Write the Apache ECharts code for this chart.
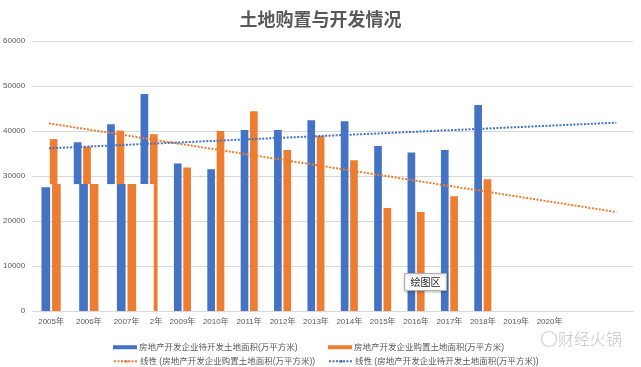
<!DOCTYPE html>
<html>
<head>
<meta charset="utf-8">
<script src="https://cdn.jsdelivr.net/npm/echarts@6/dist/echarts.min.js"></script>
<style>
html,body{margin:0;padding:0;background:#fff;}
#c{width:641px;height:367px;}
</style>
</head>
<body>
<div id="c"></div>
<script>
// ---------- data ----------
const categories = ['2005年','2006年','2007年','2年','2009年','2010年','2011年','2012年','2013年','2014年','2015年','2016年','2017年','2018年','2019年','2020年','',''];
const stockName = '房地产开发企业待开发土地面积(万平方米)';
const buyName = '房地产开发企业购置土地面积(万平方米)';
const stockTrendName = '线性 (房地产开发企业待开发土地面积(万平方米))';
const buyTrendName = '线性 (房地产开发企业购置土地面积(万平方米))';
const stockArea = [27500, 37500, 41500, 48200, 32800, 31500, 40200, 40200, 42400, 42150, 36650, 35200, 35800, 45800];
const buyArea   = [38200, 36500, 40100, 39300, 31900, 40000, 44400, 35800, 38950, 33500, 22900, 22000, 25500, 29300];
// trend line end points [categoryIndex, value]
const stockTrend = [[0, 36150], [17, 41850]];
const buyTrend   = [[0, 41700], [17, 22000]];
const yTicks = [0, 60000, 10000]; // min, max, interval
// the first four years are drawn "spliced": lower part (below breakValue) is shifted
const glitchYears = 4;
const breakValue = 28200;

// ---------- style / layout ----------
const BLUE = '#4472C4', ORANGE = '#ED7D31', TXT = '#595959', GRID = '#D9D9D9';
const FONT = '"Liberation Sans","Noto Sans CJK SC",sans-serif';
const gridLeft = 30, gridRight = 8;
const BAR_W = 0.23, BAR_GAP = 0.22;
const STRETCH = 1.13;      // horizontal stretch of the spliced lower region
const CLIP_BANDS = 3.64;   // spliced region ends this many bands from the left edge

const chart = echarts.init(document.getElementById('c'), null, {renderer: 'canvas'});

const stockBars = stockArea.map((v, i) => i < glitchYears ? '-' : v);
const buyBars = buyArea.map((v, i) => i < glitchYears ? '-' : v);
const glitchData = [];
for (let i = 0; i < glitchYears; i++) {
  glitchData.push([i, stockArea[i], 0]);
  glitchData.push([i, buyArea[i], 1]);
}

function renderGlitch(params, api) {
  const idx = api.value(0), val = api.value(1), slot = api.value(2);
  const band = api.size([1, 0])[0];
  const base = api.coord([idx, 0]);
  const cx = base[0], y0 = base[1];
  const bw = band * BAR_W, gap = bw * BAR_GAP;
  const left = cx - (2 * bw + gap) / 2 + slot * (bw + gap);
  const gx0 = api.coord([0, 0])[0] - band / 2;
  const xClip = gx0 + CLIP_BANDS * band;
  const yTop = api.coord([idx, val])[1];
  const yBreak = api.coord([idx, breakValue])[1];
  const color = slot === 0 ? BLUE : ORANGE;
  const children = [];
  const lowerTop = Math.max(yTop, yBreak);
  if (val > breakValue) {
    children.push({type: 'rect', shape: {x: left, y: yTop, width: bw, height: yBreak - yTop}, style: {fill: color}});
  }
  let sl = gx0 + (left - gx0) * STRETCH, sr = gx0 + (left + bw - gx0) * STRETCH;
  sr = Math.min(sr, xClip);
  if (sr > sl) {
    children.push({type: 'rect', shape: {x: sl, y: lowerTop, width: sr - sl, height: y0 - lowerTop}, style: {fill: color}});
  }
  const ol = Math.max(left, xClip), orr = left + bw;
  if (orr > ol) {
    children.push({type: 'rect', shape: {x: ol, y: lowerTop, width: orr - ol, height: y0 - lowerTop}, style: {fill: color}});
  }
  return {type: 'group', children: children};
}

const bandPx = (641 - gridLeft - gridRight) / categories.length;
const rich = {};
for (let i = 0; i < glitchYears; i++) {
  const c = gridLeft + (i + 0.5) * bandPx;
  let shift = (STRETCH - 1) * (c - gridLeft);
  if (gridLeft + (c - gridLeft) * STRETCH > gridLeft + CLIP_BANDS * bandPx) shift = 7;
  rich['s' + i] = {padding: [0, 0, 0, 2 * shift], fontSize: 8, color: TXT, fontFamily: FONT};
}

const legendBase = {
  orient: 'horizontal', itemWidth: 24, itemHeight: 4, itemGap: 0,
  textStyle: {fontSize: 8.5, color: TXT, fontFamily: FONT, padding: [0, 0, 0, -3]},
  selectedMode: false
};

const option = {
  backgroundColor: '#fff',
  animation: false,
  title: {
    text: '土地购置与开发情况', left: 'center', top: 5,
    textStyle: {fontSize: 18, fontWeight: 'bold', color: TXT, fontFamily: '"Noto Sans CJK SC",sans-serif'}
  },
  legend: [
    Object.assign({}, legendBase, {left: 108, top: 338, icon: 'rect', data: [stockName]}),
    Object.assign({}, legendBase, {left: 323, top: 338, icon: 'rect', data: [buyName]}),
    Object.assign({}, legendBase, {left: 108, top: 352, data: [buyTrendName]}),
    Object.assign({}, legendBase, {left: 323, top: 352, data: [stockTrendName]})
  ],
  grid: {left: gridLeft, right: gridRight, top: 41, bottom: 56, containLabel: false},
  xAxis: {
    type: 'category', data: categories,
    axisLine: {lineStyle: {color: GRID}}, axisTick: {show: false},
    axisLabel: {
      interval: 0, margin: 7, fontSize: 8, color: TXT, fontFamily: FONT, rich: rich,
      formatter: function (v, i) { return i < glitchYears ? '{s' + i + '|' + v + '}' : v; }
    }
  },
  yAxis: {
    type: 'value', min: yTicks[0], max: yTicks[1], interval: yTicks[2],
    axisLine: {show: false}, axisTick: {show: false},
    splitLine: {lineStyle: {color: GRID, width: 1}},
    axisLabel: {fontSize: 8, color: TXT, margin: 7, fontFamily: FONT,
      formatter: function (v) { return String(v); }}
  },
  series: [
    {name: stockName, type: 'bar', data: stockBars, barWidth: (BAR_W * 100) + '%', barGap: (BAR_GAP * 100) + '%',
     itemStyle: {color: BLUE}},
    {name: buyName, type: 'bar', data: buyBars, barWidth: (BAR_W * 100) + '%', barGap: (BAR_GAP * 100) + '%',
     itemStyle: {color: ORANGE}},
    {name: 'splice', type: 'custom', data: glitchData, renderItem: renderGlitch, encode: {x: 0, y: 1}, z: 2},
    {name: buyTrendName, type: 'line', data: buyTrend, symbol: 'none', z: 5,
     itemStyle: {color: ORANGE},
     lineStyle: {color: ORANGE, width: 2, type: [2, 1.5]}},
    {name: stockTrendName, type: 'line', data: stockTrend, symbol: 'none', z: 5,
     itemStyle: {color: BLUE},
     lineStyle: {color: BLUE, width: 2, type: [2, 1.5]}}
  ],
  graphic: [
    {type: 'group', left: 404, top: 273, z: 100, children: [
      {type: 'rect', z: 100, shape: {x: 0, y: 0, width: 42, height: 17},
       style: {fill: '#fff', stroke: '#b0b0b0', lineWidth: 1, shadowBlur: 3, shadowColor: 'rgba(0,0,0,0.25)', shadowOffsetY: 1}},
      {type: 'text', z: 101, x: 21, y: 8.5, style: {text: '绘图区', fontSize: 10, fill: '#222', align: 'center', verticalAlign: 'middle', fontFamily: '"Noto Sans CJK SC",sans-serif'}}
    ]},
    {type: 'circle', z: 100, shape: {cx: 549, cy: 339, r: 7.5}, style: {fill: 'none', stroke: '#cfcfcf', lineWidth: 1.2}},
    {type: 'text', z: 100, x: 558, y: 331, style: {text: '财经火锅', fontSize: 16, fill: '#c4c4c4', fontFamily: '"Noto Sans CJK SC",sans-serif', fontWeight: 300}}
  ]
};
chart.setOption(option);
</script>
</body>
</html>
